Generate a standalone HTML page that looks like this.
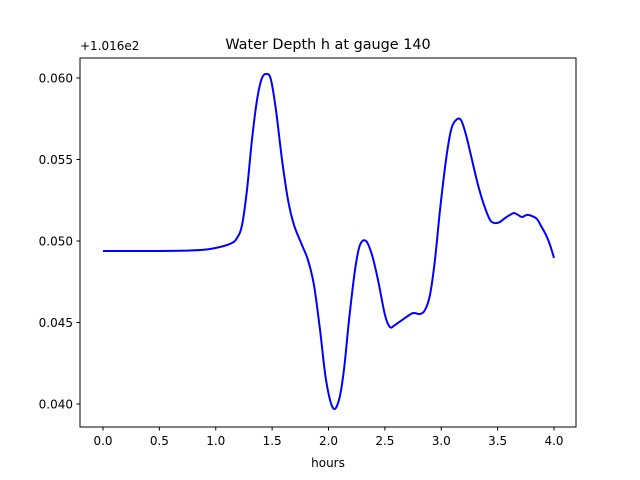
<!DOCTYPE html>
<html><head><meta charset="utf-8"><style>body{margin:0;background:#fff}svg{display:block;font-family:"DejaVu Sans","Liberation Sans",sans-serif}</style></head>
<body>
<svg id="chart" width="640" height="480">
<rect width="640" height="480" fill="#fff"/>
<text x="328" y="49" font-size="14.4" text-anchor="middle">Water Depth h at gauge 140</text>
<text x="80" y="50" font-size="12">+1.016e2</text>
<text x="328" y="467" font-size="12" text-anchor="middle">hours</text>
<g id="xt"></g>
<g id="yt"></g>
<path id="line" fill="none" stroke="#0000ff" stroke-width="2"/>
<rect x="80" y="58" width="496" height="369" fill="none" stroke="#000" stroke-width="1"/>
</svg>
<script>
const hours=[0,0.417,0.772,0.949,1.126,1.188,1.233,1.277,1.321,1.366,1.410,1.455,1.490,1.534,1.588,1.641,1.694,1.765,1.818,1.871,1.925,1.978,2.040,2.093,2.137,2.182,2.235,2.279,2.333,2.386,2.439,2.501,2.545,2.590,2.679,2.749,2.811,2.856,2.900,2.944,2.989,3.042,3.087,3.131,3.175,3.220,3.273,3.326,3.379,3.433,3.477,3.521,3.566,3.610,3.645,3.681,3.716,3.761,3.805,3.849,3.885,3.929,3.965,4.0];
const depth=[0.04939,0.04939,0.04942,0.04951,0.04982,0.05018,0.05098,0.05313,0.05620,0.05865,0.06000,0.06025,0.05988,0.05804,0.05497,0.05252,0.05098,0.04975,0.04883,0.04730,0.04454,0.04147,0.03975,0.04025,0.04209,0.04515,0.04822,0.04975,0.05000,0.04914,0.04761,0.04546,0.04472,0.04485,0.04528,0.04558,0.04552,0.04577,0.04669,0.04883,0.05190,0.05497,0.05681,0.05742,0.05742,0.05650,0.05497,0.05344,0.05221,0.05129,0.05110,0.05117,0.05141,0.05160,0.05172,0.05160,0.05147,0.05160,0.05153,0.05135,0.05092,0.05037,0.04975,0.04896];
const xTicks=[0,0.5,1,1.5,2,2.5,3,3.5,4];
const xLabels=["0.0","0.5","1.0","1.5","2.0","2.5","3.0","3.5","4.0"];
const yTicks=[0.040,0.045,0.050,0.055,0.060];
const yLabels=["0.040","0.045","0.050","0.055","0.060"];
const X=v=>103+v*112.75;
const Y=v=>78+(0.060-v)*16300;
const NS="http://www.w3.org/2000/svg";
const xt=document.getElementById('xt'),yt=document.getElementById('yt');
xTicks.forEach((t,i)=>{
 const l=document.createElementNS(NS,'line');
 l.setAttribute('x1',X(t));l.setAttribute('x2',X(t));l.setAttribute('y1',427);l.setAttribute('y2',430.5);l.setAttribute('stroke','#000');
 
 
 xt.appendChild(l);
 const s=document.createElementNS(NS,'text');
 s.setAttribute('x',X(t));s.setAttribute('y',445);s.setAttribute('font-size','12');s.setAttribute('text-anchor','middle');s.textContent=xLabels[i];
 
 
 xt.appendChild(s);
});
yTicks.forEach((t,i)=>{
 const l=document.createElementNS(NS,'line');
 l.setAttribute('x1',76.5);l.setAttribute('x2',80);l.setAttribute('y1',Y(t));l.setAttribute('y2',Y(t));l.setAttribute('stroke','#000');
 
 
 yt.appendChild(l);
 const s=document.createElementNS(NS,'text');
 s.setAttribute('x',73);s.setAttribute('y',Y(t)+4.5);s.setAttribute('font-size','12');s.setAttribute('text-anchor','end');s.textContent=yLabels[i];
 
 
 yt.appendChild(s);
});
const P=hours.map((h,i)=>[X(h),Y(depth[i])]);
let d='M'+P[0][0]+','+P[0][1];
for(let i=0;i<P.length-1;i++){
 const p0=P[Math.max(0,i-1)],p1=P[i],p2=P[i+1],p3=P[Math.min(P.length-1,i+2)];
 const c1=[p1[0]+(p2[0]-p0[0])/6,p1[1]+(p2[1]-p0[1])/6];
 const c2=[p2[0]-(p3[0]-p1[0])/6,p2[1]-(p3[1]-p1[1])/6];
 d+=` C${c1[0]},${c1[1]} ${c2[0]},${c2[1]} ${p2[0]},${p2[1]}`;
}
document.getElementById('line').setAttribute('d',d);
</script>
</body></html>
